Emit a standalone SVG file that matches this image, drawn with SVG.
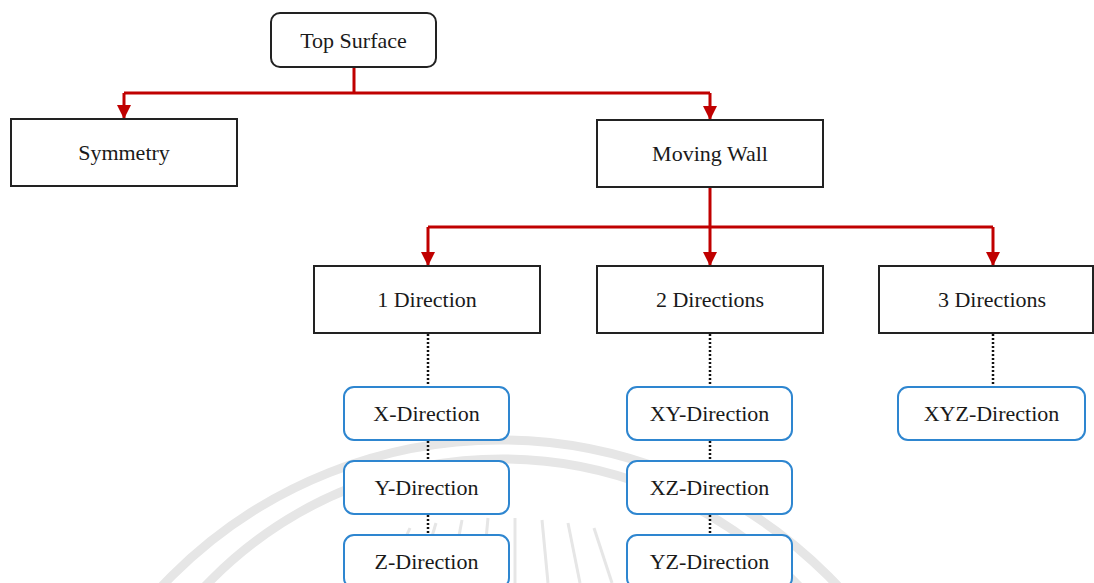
<svg xmlns="http://www.w3.org/2000/svg" width="1094" height="583" viewBox="0 0 1094 583">
  <style>
    .box { fill: #ffffff; stroke: #222222; stroke-width: 2; }
    .sub { fill: #ffffff; stroke: #2e86d0; stroke-width: 2; }
    .lbl { font-family: "Liberation Serif", "Times New Roman", serif; font-size: 22px; fill: #1a1a1a; text-anchor: middle; }
    .red { fill: none; stroke: #c00000; stroke-width: 3; }
    .dot { fill: none; stroke: #111111; stroke-width: 2.5; stroke-dasharray: 2 2; }
    .wm { fill: none; stroke: #e6e6e6; stroke-width: 9; }
    .ray { fill: none; stroke: #e6e6e6; stroke-width: 3; }
  </style>
  <defs>
    <marker id="arr" markerUnits="userSpaceOnUse" markerWidth="14" markerHeight="14" viewBox="0 0 14 14" refX="14" refY="7" orient="auto">
      <path d="M0,0 L14,7 L0,14 Z" fill="#c00000"/>
    </marker>
  </defs>
  <rect width="1094" height="583" fill="#ffffff"/>

  <g id="watermark">
    <circle class="wm" cx="500" cy="904" r="464"/>
    <circle class="wm" cx="502" cy="869" r="410"/>
    <g class="ray">
      <line x1="352" y1="583" x2="380" y2="535"/>
      <line x1="385" y1="583" x2="410" y2="528"/>
      <line x1="418" y1="583" x2="436" y2="523"/>
      <line x1="450" y1="583" x2="462" y2="520"/>
      <line x1="482" y1="583" x2="488" y2="518"/>
      <line x1="515" y1="583" x2="515" y2="518"/>
      <line x1="548" y1="583" x2="542" y2="520"/>
      <line x1="580" y1="583" x2="568" y2="523"/>
      <line x1="612" y1="583" x2="594" y2="528"/>
    </g>
  </g>

  <g id="connectors">
    <path class="red" d="M354,67 V93 M124,93 H710"/>
    <path class="red" d="M124,93 V119" marker-end="url(#arr)"/>
    <path class="red" d="M710,93 V120" marker-end="url(#arr)"/>
    <path class="red" d="M710,187 V266" marker-end="url(#arr)"/>
    <path class="red" d="M428,227 H993"/>
    <path class="red" d="M428,227 V266" marker-end="url(#arr)"/>
    <path class="red" d="M993,227 V266" marker-end="url(#arr)"/>
    <path class="dot" d="M428,334 V387 M428,441 V461 M428,515 V535"/>
    <path class="dot" d="M710,334 V387 M710,441 V461 M710,515 V535"/>
    <path class="dot" d="M993,334 V387"/>
  </g>

  <g id="top-surface">
    <rect class="box" x="271" y="13" width="165" height="54" rx="9"/>
    <text class="lbl" x="353.5" y="48">Top Surface</text>
  </g>
  <g id="symmetry">
    <rect class="box" x="11" y="119" width="226" height="67"/>
    <text class="lbl" x="124" y="160">Symmetry</text>
  </g>
  <g id="moving-wall">
    <rect class="box" x="597" y="120" width="226" height="67"/>
    <text class="lbl" x="710" y="161">Moving Wall</text>
  </g>
  <g id="one-direction">
    <rect class="box" x="314" y="266" width="226" height="67"/>
    <text class="lbl" x="427" y="307">1 Direction</text>
  </g>
  <g id="two-directions">
    <rect class="box" x="597" y="266" width="226" height="67"/>
    <text class="lbl" x="710" y="307">2 Directions</text>
  </g>
  <g id="three-directions">
    <rect class="box" x="879" y="266" width="214" height="67"/>
    <text class="lbl" x="992" y="307">3 Directions</text>
  </g>
  <g id="x-direction">
    <rect class="sub" x="344" y="387" width="165" height="53" rx="10"/>
    <text class="lbl" x="426.5" y="421">X-Direction</text>
  </g>
  <g id="y-direction">
    <rect class="sub" x="344" y="461" width="165" height="53" rx="10"/>
    <text class="lbl" x="426.5" y="495">Y-Direction</text>
  </g>
  <g id="z-direction">
    <rect class="sub" x="344" y="535" width="165" height="53" rx="10"/>
    <text class="lbl" x="426.5" y="569">Z-Direction</text>
  </g>
  <g id="xy-direction">
    <rect class="sub" x="627" y="387" width="165" height="53" rx="10"/>
    <text class="lbl" x="709.5" y="421">XY-Direction</text>
  </g>
  <g id="xz-direction">
    <rect class="sub" x="627" y="461" width="165" height="53" rx="10"/>
    <text class="lbl" x="709.5" y="495">XZ-Direction</text>
  </g>
  <g id="yz-direction">
    <rect class="sub" x="627" y="535" width="165" height="53" rx="10"/>
    <text class="lbl" x="709.5" y="569">YZ-Direction</text>
  </g>
  <g id="xyz-direction">
    <rect class="sub" x="898" y="387" width="187" height="53" rx="10"/>
    <text class="lbl" x="991.5" y="421">XYZ-Direction</text>
  </g>
</svg>
